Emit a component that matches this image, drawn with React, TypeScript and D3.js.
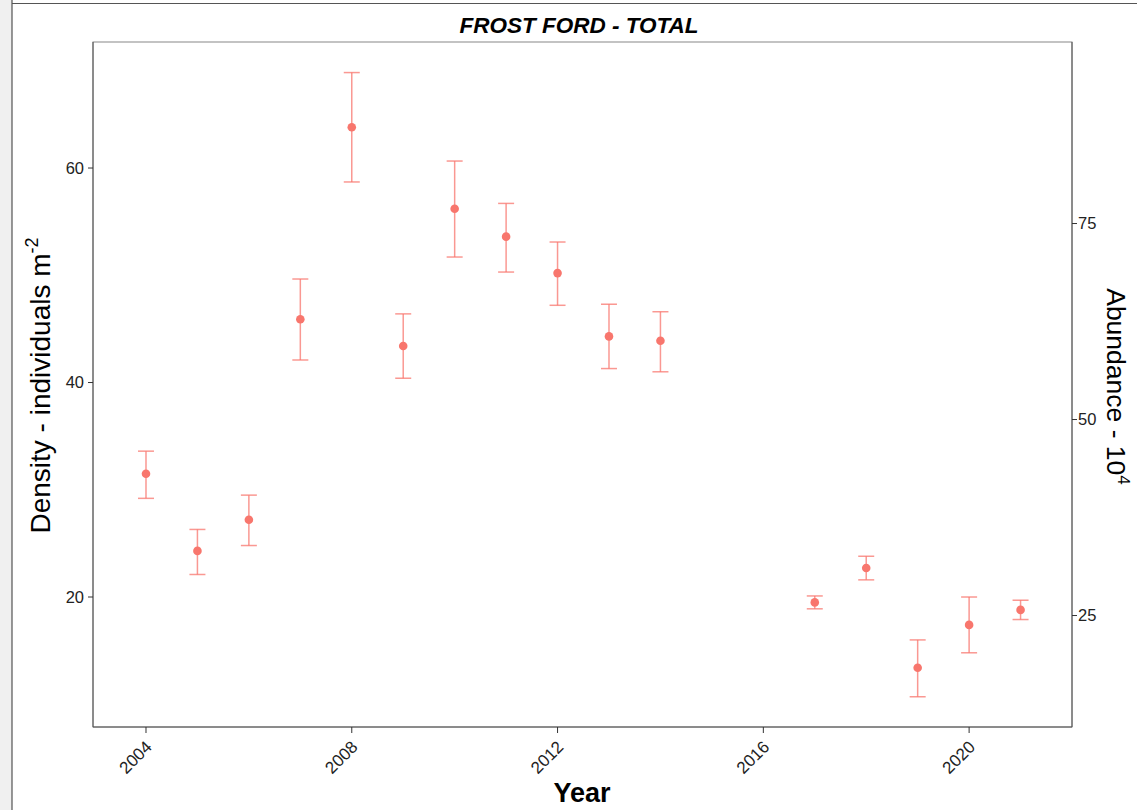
import React from "react";
import * as d3 from "d3";

const years = [2004, 2005, 2006, 2007, 2008, 2009, 2010, 2011, 2012, 2013, 2014, 2017, 2018, 2019, 2020, 2021];
const density = [31.5, 24.3, 27.2, 45.9, 63.8, 43.4, 56.2, 53.6, 50.2, 44.3, 43.9, 19.5, 22.7, 13.4, 17.4, 18.8];
const upper = [33.6, 26.3, 29.5, 49.65, 68.9, 46.4, 60.65, 56.7, 53.1, 47.3, 46.6, 20.1, 23.8, 16.0, 20.0, 19.7];
const lower = [29.2, 22.1, 24.8, 42.1, 58.7, 40.4, 51.7, 50.3, 47.2, 41.3, 41.0, 18.9, 21.6, 10.7, 14.8, 17.9];
const xTicks = [2004, 2008, 2012, 2016, 2020];
const yTicks = [20, 40, 60];
const y2Ticks = [25, 50, 75];
const abundanceFactor = 1.368;

const W = 1137;
const H = 810;
const panel = { left: 93, right: 1072, top: 42, bottom: 727 };
const font = "'Liberation Sans', Arial, Helvetica, sans-serif";
const col = "#F8766D";

export default function App() {
  const x = d3.scaleLinear().domain([2002.97, 2022.0]).range([panel.left, panel.right]);
  const y = d3.scaleLinear().domain([7.88, 71.75]).range([panel.bottom, panel.top]);
  const y2 = d3
    .scaleLinear()
    .domain([7.88 * abundanceFactor, 71.75 * abundanceFactor])
    .range([panel.bottom, panel.top]);
  const cap = 8;

  return (
    <svg
      width={W}
      height={H}
      style={{ position: "absolute", left: 0, top: 0, background: "#fff" }}
      fontFamily={font}
    >
      <rect x={0} y={0} width={12} height={H} fill="#f0f0f0" />
      <line x1={12} y1={0} x2={12} y2={H} stroke="#333" strokeWidth={1} />
      <line x1={12} y1={3.5} x2={W} y2={3.5} stroke="#555" strokeWidth={1} />

      <text x={579} y={33} textAnchor="middle" fontSize={22.5} fontWeight="bold" fontStyle="italic" fill="#000">
        FROST FORD - TOTAL
      </text>

      <rect
        x={panel.left}
        y={panel.top}
        width={panel.right - panel.left}
        height={panel.bottom - panel.top}
        fill="none"
        stroke="#888"
        strokeWidth={1}
      />
      <line x1={panel.left} y1={panel.bottom} x2={panel.right} y2={panel.bottom} stroke="#555" />
      <line x1={panel.left} y1={panel.top} x2={panel.left} y2={panel.bottom} stroke="#555" />
      <line x1={panel.right} y1={panel.top} x2={panel.right} y2={panel.bottom} stroke="#555" />

      {yTicks.map((t) => (
        <g key={"y" + t}>
          <line x1={panel.left - 5} x2={panel.left} y1={y(t)} y2={y(t)} stroke="#333" />
          <text x={panel.left - 9} y={y(t)} dy="0.35em" textAnchor="end" fontSize={16.5} fill="#222">
            {t}
          </text>
        </g>
      ))}
      {y2Ticks.map((t) => (
        <g key={"y2" + t}>
          <line x1={panel.right} x2={panel.right + 5} y1={y2(t)} y2={y2(t)} stroke="#333" />
          <text x={panel.right + 6} y={y2(t)} dy="0.35em" textAnchor="start" fontSize={16.5} fill="#222">
            {t}
          </text>
        </g>
      ))}
      {xTicks.map((t) => (
        <g key={"x" + t}>
          <line x1={x(t)} x2={x(t)} y1={panel.bottom} y2={panel.bottom + 6} stroke="#333" />
          <text
            transform={`translate(${x(t) + 7},${panel.bottom + 21}) rotate(-45)`}
            textAnchor="end"
            fontSize={17}
            fill="#222"
          >
            {t}
          </text>
        </g>
      ))}

      {years.map((yr, i) => (
        <g key={"e" + yr} stroke={col} strokeOpacity={0.75} strokeWidth={1.5}>
          <line x1={x(yr)} x2={x(yr)} y1={y(upper[i])} y2={y(lower[i])} />
          <line x1={x(yr) - cap} x2={x(yr) + cap} y1={y(upper[i])} y2={y(upper[i])} />
          <line x1={x(yr) - cap} x2={x(yr) + cap} y1={y(lower[i])} y2={y(lower[i])} />
        </g>
      ))}
      {years.map((yr, i) => (
        <circle key={"p" + yr} cx={x(yr)} cy={y(density[i])} r={4.3} fill={col} />
      ))}

      <text x={582} y={802} textAnchor="middle" fontSize={27} fontWeight="bold" fill="#000">
        Year
      </text>
      <text transform={`translate(50,${(panel.top + panel.bottom) / 2 + 1}) rotate(-90)`} textAnchor="middle" fontSize={28} fill="#000">
        Density - individuals m
        <tspan dy={-12} fontSize={18}>-2</tspan>
      </text>
      <text transform={`translate(1107,${(panel.top + panel.bottom) / 2 + 2}) rotate(90)`} textAnchor="middle" fontSize={26.5} fill="#000">
        Abundance - 10
        <tspan dy={-11} fontSize={17}>4</tspan>
      </text>
    </svg>
  );
}
